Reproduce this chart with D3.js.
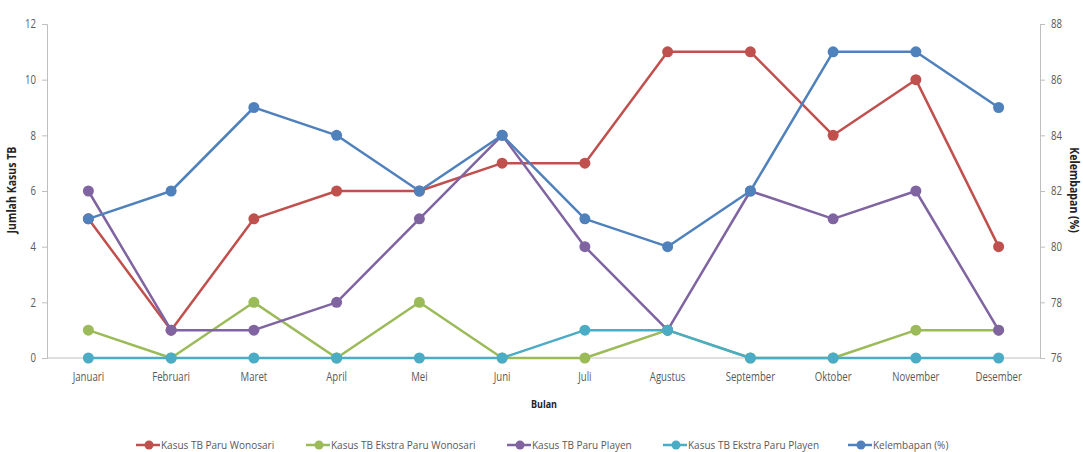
<!DOCTYPE html>
<html>
<head>
<meta charset="utf-8">
<script src="https://cdn.jsdelivr.net/npm/d3@7"></script>
<style>
  html, body { margin: 0; padding: 0; background: #fff; }
  svg { display: block; font-family: "Open Sans", Arial, sans-serif; }
</style>
</head>
<body>
<svg id="chart" width="1083" height="452"></svg>
<script>
// Months
const months = ["Januari", "Februari", "Maret", "April", "Mei", "Juni", "Juli",
  "Agustus", "September", "Oktober", "November", "Desember"];

// TB cases per month (left axis)
const paruWonosari = [5, 1, 5, 6, 6, 7, 7, 11, 11, 8, 10, 4];
const ekstraParuWonosari = [1, 0, 2, 0, 2, 0, 0, 1, 0, 0, 1, 1];
const paruPlayen = [6, 1, 1, 2, 5, 8, 4, 1, 6, 5, 6, 1];
const ekstraParuPlayen = [0, 0, 0, 0, 0, 0, 1, 1, 0, 0, 0, 0];

// Humidity (%) per month (right axis)
const kelembapan = [81, 82, 85, 84, 82, 84, 81, 80, 82, 87, 87, 85];

// Axis ticks
const leftTicks = [0, 2, 4, 6, 8, 10, 12];
const rightTicks = [76, 78, 80, 82, 84, 86, 88];

const seriesNames = ["Kasus TB Paru Wonosari", "Kasus TB Ekstra Paru Wonosari",
  "Kasus TB Paru Playen", "Kasus TB Ekstra Paru Playen", "Kelembapan (%)"];
const seriesColors = ["#C0504D", "#9BBB59", "#8064A2", "#4BACC6", "#4F81BD"];

const svg = d3.select("#chart");
const plot = { left: 47, right: 1040, top: 24, bottom: 358 };
const textColor = "#595959";
const axisColor = "#BFBFBF";

// Horizontally condense text to a narrow face, keeping its anchor point.
function condense(sel, k) {
  sel.each(function () {
    const t = d3.select(this);
    const xv = +(t.attr("x") || 0);
    const base = t.attr("data-base") || "";
    t.attr("x", xv / k);
    t.attr("transform", `${base} scale(${k},1)`.trim());
  });
}

const x = d3.scaleBand().domain(months).range([plot.left, plot.right]);
const yL = d3.scaleLinear().domain([0, 12]).range([plot.bottom, plot.top]);
const yR = d3.scaleLinear().domain([76, 88]).range([plot.bottom, plot.top]);

// Left axis
const gL = svg.append("g").attr("transform", `translate(${plot.left},0)`)
  .call(d3.axisLeft(yL).tickValues(leftTicks).tickSize(5).tickPadding(6));
// Right axis
const gR = svg.append("g").attr("transform", `translate(${plot.right},0)`)
  .call(d3.axisRight(yR).tickValues(rightTicks).tickSize(5).tickPadding(6));
// Bottom axis (labels only, baseline line)
const gB = svg.append("g").attr("transform", `translate(0,${plot.bottom})`)
  .call(d3.axisBottom(x).tickSize(0).tickPadding(14));

[gL, gR, gB].forEach(g => {
  g.selectAll("path.domain").attr("stroke", axisColor).attr("stroke-width", 1);
  g.selectAll(".tick line").attr("stroke", axisColor);
  g.selectAll("text").attr("fill", textColor).attr("font-size", 12)
    .attr("font-family", "'Open Sans', Arial, sans-serif");
  condense(g.selectAll("text"), 0.8);
});
gB.select("path.domain").attr("d", `M${plot.left},0H${plot.right}`);

// Axis titles
const titleStyle = (t, size) => t.attr("text-anchor", "middle").attr("font-size", size)
  .attr("font-weight", "bold").attr("fill", "#222")
  .attr("font-family", "'Open Sans', Arial, sans-serif");

svg.append("text")
  .attr("data-base", `translate(16,190) rotate(-90)`)
  .call(titleStyle, 12).text("Jumlah Kasus TB")
  .call(condense, 0.88);
svg.append("text")
  .attr("data-base", `translate(1070,190) rotate(90)`)
  .call(titleStyle, 12).text("Kelembapan (%)")
  .call(condense, 0.88);
svg.append("text")
  .attr("data-base", "translate(544,408)")
  .call(titleStyle, 11).text("Bulan")
  .call(condense, 0.82);

// Series
const allSeries = [
  { values: paruWonosari, scale: yL },
  { values: ekstraParuWonosari, scale: yL },
  { values: paruPlayen, scale: yL },
  { values: ekstraParuPlayen, scale: yL },
  { values: kelembapan, scale: yR }
];

const cx = m => x(m) + x.bandwidth() / 2;

allSeries.forEach((s, i) => {
  const line = d3.line()
    .x((d, j) => cx(months[j]))
    .y(d => s.scale(d));
  const g = svg.append("g");
  g.append("path").datum(s.values)
    .attr("d", line).attr("fill", "none")
    .attr("stroke", seriesColors[i]).attr("stroke-width", 2.5)
    .attr("stroke-linejoin", "round");
  g.selectAll("circle").data(s.values).join("circle")
    .attr("cx", (d, j) => cx(months[j]))
    .attr("cy", d => s.scale(d))
    .attr("r", 5.5)
    .attr("fill", seriesColors[i]);
});

// Legend
const legendX = [149, 319, 520, 676, 861];
const legendY = 445;
seriesNames.forEach((name, i) => {
  const g = svg.append("g").attr("transform", `translate(${legendX[i]},${legendY})`);
  g.append("line").attr("x1", -13).attr("x2", 11).attr("y1", 0).attr("y2", 0)
    .attr("stroke", seriesColors[i]).attr("stroke-width", 2.5);
  g.append("circle").attr("r", 4.5).attr("fill", seriesColors[i]);
  g.append("text").attr("x", 12).attr("y", 4)
    .attr("font-size", 11).attr("fill", textColor)
    .text(name)
    .call(condense, 0.91);
});
</script>
</body>
</html>
